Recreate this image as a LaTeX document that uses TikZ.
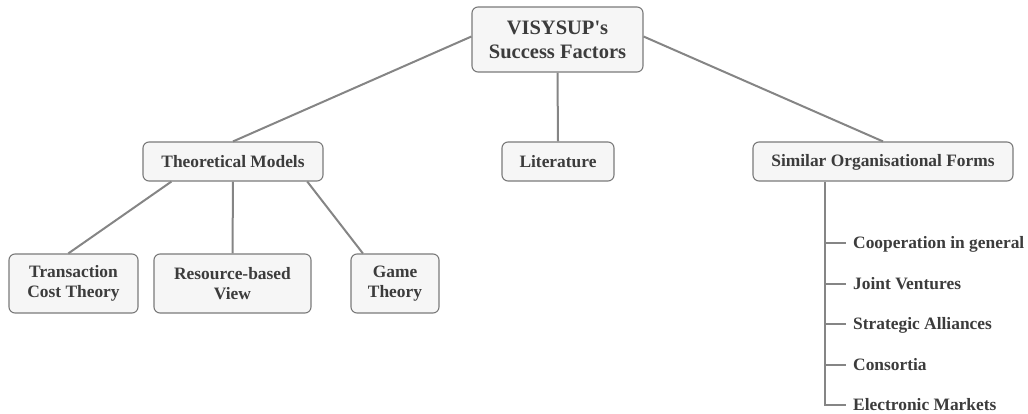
\documentclass[tikz,border=0pt]{standalone}
\usepackage{fontspec}
\setmainfont{Liberation Serif}
\usetikzlibrary{calc}
\definecolor{inkgray}{HTML}{3C3C3C}
\definecolor{linegray}{HTML}{858585}
\definecolor{boxfill}{HTML}{F6F6F6}
\definecolor{boxline}{HTML}{7A7A7A}
\begin{document}
\begin{tikzpicture}[x=1pt,y=-1pt,
  topic/.style={draw=boxline, line width=1.1pt, fill=boxfill, rounded corners=6pt,
    align=center, text=inkgray, inner sep=0pt,
    font=\bfseries\fontsize{17.4}{20}\selectfont},
  rootbox/.style={topic, font=\bfseries\fontsize{20.5}{24}\selectfont},
  item/.style={anchor=base west, inner sep=0pt, text=inkgray,
    font=\bfseries\fontsize{17.4}{20}\selectfont},
  link/.style={draw=linegray, line width=2pt}]
\useasboundingbox (0,0) rectangle (1028,414);

% main topic
\node[rootbox, minimum width=171pt, minimum height=65pt] (root) at (557.5,39.5)
  {VISYSUP\textquotesingle s\\Success Factors};

% second level
\node[topic, minimum width=180pt, minimum height=39pt] (tm) at (233,161.5) {Theoretical Models};
\node[topic, minimum width=112pt, minimum height=39pt] (lit) at (558,161.5) {Literature};
\node[topic, minimum width=260pt, minimum height=39pt, text depth=2pt] (sof) at (883,161.5) {Similar Organisational Forms};

% theoretical models
\node[topic, minimum width=129pt, minimum height=59pt] (tct) at (73.5,283.5) {Transaction\\Cost Theory};
\node[topic, minimum width=157pt, minimum height=59pt] (rbv) at (232.5,283.5) {Resource-based\\View};
\node[topic, minimum width=88pt, minimum height=59pt] (gt) at (395,283.5) {Game\\Theory};

% organisational forms
\node[item] (i1) at (853,248.5) {Cooperation in general};
\node[item] (i2) at (853,289.5) {Joint Ventures};
\node[item] (i3) at (853,329.5) {Strategic Alliances};
\node[item] (i4) at (853,370.5) {Consortia};
\node[item] (i5) at (853,410.5) {Electronic Markets};
\coordinate (spine) at (825,0);

% connectors
\draw[link] ([yshift=3pt]root.west) -- (tm.north);
\draw[link] (root.south) -- (lit.north);
\draw[link] ([yshift=3pt]root.east) -- (sof.north);

\draw[link] ($(tm.south west)!0.16!(tm.south east)$) -- ($(tct.north west)!0.46!(tct.north east)$);
\draw[link] (tm.south) -- (rbv.north);
\draw[link] ($(tm.south west)!0.91!(tm.south east)$) -- ($(gt.north west)!0.14!(gt.north east)$);

\draw[link] (sof.south -| spine) -- (spine |- 0,405) -- (846,405);
\foreach \y in {243,284,324,365}
  \draw[link] (spine |- 0,\y) -- (846,\y);
\end{tikzpicture}
\end{document}
